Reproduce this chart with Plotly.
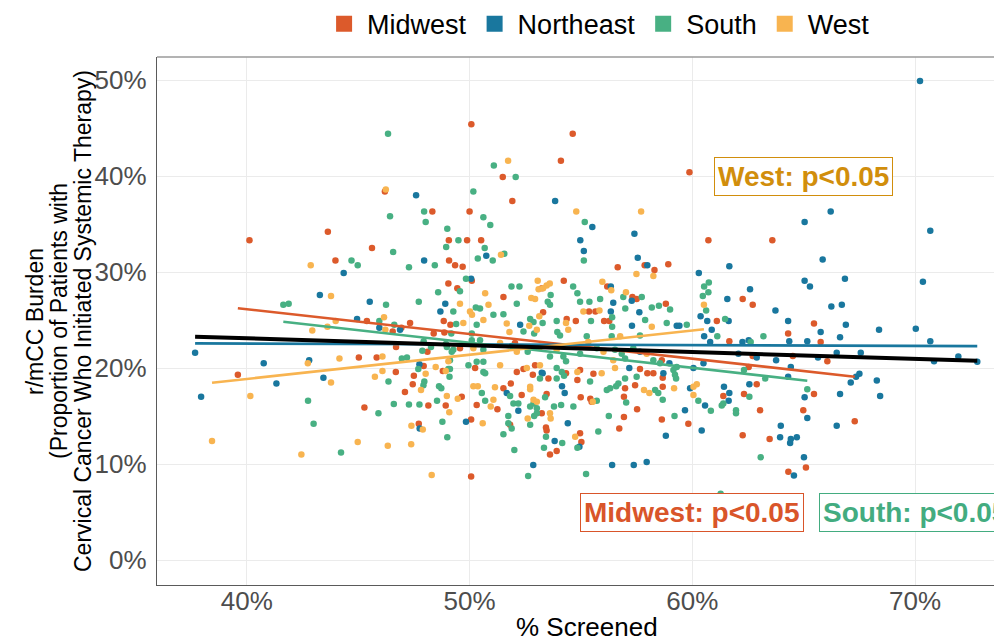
import numpy as np
import plotly.graph_objects as go

# ---------------- data ----------------
regions = ["Midwest", "Northeast", "South", "West"]
point_colors = {"Midwest": "#DC5A2B", "Northeast": "#19779E", "South": "#48B083", "West": "#F8B450"}
label_colors = {"Midwest": "#D9552A", "South": "#43AC80", "West": "#D18E0C"}

midwest_x = [46.2, 48.33, 43.64, 40.12, 49.07, 45.62, 43.98, 49.08, 49.35, 49.05, 49.45,
             45.39, 47.33, 48.84, 49.14, 46.55, 46.94, 48.39, 48.87, 46.7, 48.11, 45.03, 45.83, 47.94, 48.8,
             46.69, 39.6, 47.5, 47.45, 47.1, 48.15, 48.93, 45.28, 47.72,
             50.08, 54.63, 54.1, 51.49, 59.87, 51.92, 50.0, 49.89, 50.52, 49.69, 56.65, 57.86, 58.3, 58.92,
             60.72, 50.1, 53.25, 54.23, 56.18, 51.52,
             63.59,
             62.26, 62.71, 65.46, 61.1, 61.66, 64.3, 65.76, 62.71, 64.51, 66.06, 62.53, 62.89, 65.46, 61.39,
             62.32, 63.04, 64.98, 67.29, 62.26, 63.47, 64.31, 65.1,
             57.31, 57.5, 58.81, 53.3, 55.36, 55.65, 54.36, 54.77, 56.04, 56.27, 49.57, 52.04, 58.63, 57.65,
             52.42, 52.94, 54.96, 50.25,
             52.12, 52.84, 53.54, 54.33, 55.56, 54.84, 57.98, 58.25, 58.67, 59.82, 58.63, 57.52, 56.93, 56.72,
             56.93, 58.67, 56.98, 57.43, 54.99, 55.42, 55.48, 53.46, 52.34, 51.85, 51.52, 50.32, 51.25, 53.24,
             51.82, 50.07, 53.43, 53.46, 54.96, 55.02, 53.91, 53.61, 50.07, 49.65]
midwest_y = [38.4, 36.3, 34.2, 33.3, 33.3, 32.5, 31.2, 31.2, 30.7, 28.8, 28.3,
             24.9, 24.7, 24.9, 24.5, 23.8, 24.2, 23.6, 23.7, 22.2, 21.7, 21.1, 21.1, 20.2, 19.7,
             19.6, 19.3, 19.2, 18.3, 17.5, 16.1, 16.1, 15.9, 14.2,
             45.4, 44.4, 41.6, 39.9, 40.4, 37.4, 36.3, 33.3, 33.3, 30.55, 30.5, 30.7, 30.2, 30.8,
             33.3, 29.1, 28.3, 29.1, 28.5, 27.4,
             33.3,
             27.2, 26.6, 24.65, 24.9, 22.8, 23.6, 22.7, 21.25, 21.25, 20.7, 20.1, 18.3, 17.3, 17.1,
             17.3, 15.6, 15.6, 14.45, 13.0, 12.6, 9.2, 9.65,
             27.4, 27.2, 26.7, 25.8, 25.9, 25.9, 25.1, 24.9, 24.9, 24.9, 22.05, 22.6, 20.8, 19.9,
             19.9, 20.3, 19.8, 20.0,
             19.6, 19.3, 18.9, 19.45, 19.4, 18.75, 19.45, 19.45, 19.0, 14.2, 14.65, 15.7, 14.9, 13.7,
             17.0, 18.05, 17.9, 18.2, 16.95, 16.8, 16.5, 17.3, 17.2, 18.4, 17.9, 16.15, 15.7, 15.3,
             14.1, 14.65, 13.8, 13.5, 13.2, 12.3, 11.35, 11.0, 8.7, 17.0]

northeast_x = [47.6, 47.96, 44.35, 43.28,
               45.52, 48.91, 48.69, 44.95, 45.95, 46.88, 37.68, 40.76, 42.8, 47.75, 43.44, 41.33, 37.95, 47.76,
               53.84, 55.51, 57.4, 54.97, 55.13, 50.75, 57.55, 57.98, 60.29, 50.07, 56.34,
               70.22, 66.21, 65.04, 70.68, 65.85, 61.66, 65.04, 65.28, 66.85, 70.35, 62.59,
               60.37, 61.57, 63.73, 66.24, 66.71, 64.3, 66.89, 61.63, 60.67, 60.87, 60.53, 60.8, 62.25, 62.53,
               64.35, 65.16, 65.76, 66.63, 68.38, 70.03, 70.68, 66.48, 67.56, 62.07, 62.89, 63.76, 65.64, 70.85,
               71.94, 72.79, 64.42, 64.3, 67.35, 67.5, 67.11, 68.28, 68.43, 62.56, 65.04, 66.63, 61.42, 61.66,
               61.63, 60.57, 65.16, 66.48, 63.97, 60.42, 63.94, 64.42, 64.39, 64.69, 65.01, 64.56,
               56.45, 57.28, 56.34, 57.62, 52.27, 57.29, 59.3, 59.42, 57.65, 58.97, 57.17, 53.24, 60.05, 60.5,
               53.28, 58.7, 59.9, 59.67, 58.81, 54.27, 54.15, 52.19, 51.67, 49.84, 54.41, 54.93, 53.82, 52.86,
               56.4, 57.37, 57.95]
northeast_y = [38.0, 31.2, 29.9, 27.6,
               26.9, 26.7, 25.9, 25.1, 24.2, 24.0, 21.6, 20.5, 20.8, 20.4, 19.0, 18.4, 17.0, 13.7,
               37.4, 34.7, 34.0, 33.3, 32.2, 31.7, 31.5, 30.7, 29.9, 29.3, 28.5,
               49.9, 36.3, 35.2, 34.3, 31.3, 30.6, 29.1, 28.5, 29.3, 29.0, 28.2,
               25.4, 27.2, 26.0, 26.4, 26.6, 24.9, 24.5, 24.9, 24.9, 24.0, 23.3, 22.7, 22.7, 22.9,
               22.8, 22.8, 23.75, 23.2, 24.0, 24.1, 22.8, 21.6, 21.6, 21.5, 21.1, 20.8, 21.1, 20.7,
               21.2, 20.65, 20.1, 19.1, 19.1, 19.4, 18.5, 18.7, 17.1, 18.3, 16.95, 17.3, 18.05, 17.4,
               16.6, 16.1, 14.8, 14.0, 14.0, 13.5, 12.8, 12.6, 12.2, 12.8, 10.7, 8.8,
               26.8, 27.0, 25.9, 25.8, 24.5, 24.4, 24.4, 24.4, 21.7, 20.5, 20.0, 19.5, 20.0, 20.5,
               19.45, 19.45, 17.9, 15.6, 12.95, 17.4, 18.1, 15.55, 17.4, 14.4, 14.25, 11.8, 12.4, 9.9,
               9.9, 9.9, 10.2]

south_x = [46.34, 47.96, 46.43, 48.03, 49.0, 49.5, 48.95, 46.57, 44.7, 44.98, 47.28, 48.44, 48.59,
           41.64, 41.88, 46.25, 47.72, 49.27, 45.95, 46.62, 47.94, 47.88, 48.27, 48.98, 49.2, 46.96, 47.19,
           47.7, 49.05, 49.1, 46.36, 47.97, 47.93, 48.63, 48.73, 42.75, 46.6, 47.28, 47.75, 48.54, 45.91,
           48.78, 43.0, 49.0, 44.23,
           51.09, 52.07, 50.17, 50.62, 50.93, 55.17, 50.68, 51.56, 50.37, 51.04, 55.13, 49.84, 49.57, 51.88,
           52.24, 54.65, 54.84, 53.64, 60.53, 60.74, 60.47, 60.72,
           60.62, 61.47, 61.12, 62.62, 63.19, 62.32, 63.27, 65.16, 62.56, 61.39, 61.32, 60.83, 61.96, 61.96,
           63.07, 61.27,
           56.9, 57.73, 50.28, 52.12, 53.51, 53.61, 54.96, 55.86, 55.38, 58.18, 58.5, 50.47, 51.07, 51.52,
           56.99, 59.0, 49.4, 50.32, 52.72, 52.87, 53.28, 53.91, 55.45, 56.4, 56.4, 57.88, 58.85, 59.75,
           49.18, 50.1, 52.42, 52.9, 53.94, 54.06, 55.26, 56.38, 57.65, 48.94, 49.27, 50.1, 50.47, 50.62,
           51.89, 52.61, 53.61, 54.21, 54.33, 54.96, 55.71, 56.53, 56.83, 56.98, 57.35, 58.25, 58.55, 59.3,
           53.91, 54.14, 49.12, 49.12, 49.95, 50.32, 50.62, 50.62, 59.15,
           50.7, 53.16, 53.91, 54.24, 55.41, 56.68, 56.98, 57.5, 59.22, 59.27, 60.27, 59.2, 56.25, 55.78,
           57.03, 58.33, 58.47, 58.67, 56.16, 56.31, 56.58, 55.71, 54.66, 54.11, 53.39, 53.79, 52.72, 52.87,
           53.02, 51.97, 52.19, 51.82, 50.7, 50.55, 51.74, 52.9, 53.02, 52.72, 51.74, 51.89, 51.52, 53.43,
           54.84, 54.16, 53.34, 52.01, 52.63, 55.23]
south_y = [44.4, 36.3, 35.8, 35.2, 34.5, 33.3, 32.6, 32.1, 31.2, 30.7, 30.5, 30.7, 27.9,
           26.6, 26.7, 26.6, 26.9, 25.9, 24.9, 24.5, 22.8, 21.8, 22.2, 22.2, 21.7, 21.0, 21.1,
           19.9, 19.9, 19.1, 18.6, 18.6, 18.2, 18.1, 17.9, 16.6, 16.25, 16.2, 16.2, 16.6, 15.3,
           14.4, 14.2, 12.8, 11.2,
           41.1, 39.9, 38.4, 35.7, 34.9, 35.2, 32.5, 31.9, 31.4, 31.2, 31.2, 29.3, 28.0, 28.5,
           28.5, 28.5, 27.8, 27.6, 28.5, 28.9, 27.5, 27.9,
           26.0, 25.1, 23.3, 22.7, 23.3, 19.8, 18.9, 17.8, 17.0, 16.3, 16.1, 15.55, 15.6, 15.3,
           10.7, 6.9,
           27.4, 27.4, 26.3, 26.7, 26.9, 26.6, 26.9, 27.2, 26.9, 26.3, 26.5, 26.2, 25.55, 25.6,
           26.2, 26.1, 24.6, 24.5, 25.1, 24.8, 24.7, 24.9, 24.9, 25.3, 24.3, 25.0, 24.7, 24.5,
           23.6, 23.6, 23.8, 23.6, 23.75, 23.4, 23.3, 23.3, 23.4, 22.5, 21.9, 22.9, 22.9, 21.9,
           22.3, 21.7, 21.2, 21.2, 20.7, 21.5, 22.05, 21.9, 21.5, 21.0, 22.05, 20.8, 20.5, 20.1,
           20.0, 19.6, 20.8, 19.9, 20.3, 20.65, 20.65, 19.6, 19.8,
           19.45, 18.9, 18.9, 19.2, 18.6, 18.4, 18.9, 19.1, 19.3, 18.9, 16.6, 15.0, 15.0, 13.4,
           16.4, 17.7, 17.4, 16.7, 17.7, 17.9, 18.1, 16.6, 16.0, 16.15, 16.95, 16.0, 16.0, 16.3,
           15.8, 16.3, 16.3, 17.1, 16.6, 17.4, 15.0, 15.0, 15.3, 14.1, 14.25, 13.7, 13.1, 12.85,
           11.7, 12.2, 11.7, 11.45, 8.75, 8.95]

west_x = [46.24, 42.87, 43.78,
          46.16, 43.99, 43.62, 46.22, 42.94, 42.74, 44.16, 46.09, 48.48, 48.93, 46.09, 45.75, 43.78, 48.03,
          47.82, 48.98, 49.47, 40.16, 49.09, 47.39, 47.9, 38.44, 44.98, 46.33, 47.38, 42.45, 48.3,
          51.73, 54.79, 57.7, 51.41, 57.49, 58.25, 50.7, 53.06, 53.1, 53.3, 53.46, 53.6, 55.96, 56.36,
          57.02, 52.77,
          60.52,
          49.57, 50.85, 52.94, 50.02, 50.11, 53.13, 55.11, 55.83, 49.72, 50.62, 52.68, 54.33, 54.43, 58.18,
          51.67, 51.79, 53.02, 56.76, 50.17, 51.37, 52.12, 53.16, 53.91, 55.33, 56.01, 56.45, 57.95, 52.57,
          53.16, 56.53, 49.05, 51.37,
          54.84, 55.93, 60.2, 60.05, 60.05, 57.83, 58.07, 59.18, 55.53, 52.72, 52.72, 52.87, 53.02, 51.07,
          50.17, 50.37, 51.14, 50.95, 52.61, 53.61, 53.64, 50.59, 54.74]
west_y = [38.6, 30.7, 27.5,
          25.3, 24.9, 24.3, 24.0, 23.9, 20.5, 21.0, 21.2, 20.1, 19.7, 19.7, 19.1, 18.5, 19.4,
          17.7, 17.1, 16.8, 17.1, 15.4, 14.0, 13.6, 12.4, 12.3, 11.9, 12.05, 11.0, 8.85,
          41.6, 36.3, 36.3, 31.8, 29.8, 29.6, 27.8, 29.1, 28.2, 28.3, 28.6, 28.8, 29.0, 28.1,
          27.9, 27.3,
          26.6,
          26.7, 26.6, 27.2, 25.9, 25.55, 25.4, 25.9, 26.0, 24.7, 25.0, 24.4, 24.7, 24.0, 24.3,
          24.65, 23.75, 24.0, 23.3, 22.05, 22.6, 21.7, 22.2, 21.9, 22.7, 21.7, 20.8, 21.5, 20.0,
          20.3, 20.0, 20.7, 20.3,
          19.6, 19.45, 18.3, 18.05, 17.2, 17.7, 17.4, 17.9, 16.5, 18.05, 17.8, 16.7, 16.5, 16.7,
          18.1, 18.1, 18.0, 16.0, 14.75, 15.3, 14.75, 14.25, 12.85]

# linear fits (intercept, slope in % units)
fit_intercept = {"Midwest": 36.43, "Northeast": 22.87, "South": 35.71, "West": 8.77, "All": 25.95}
fit_slope = {"Midwest": -0.2576, "Northeast": -0.008, "South": -0.2614, "West": 0.2523, "All": -0.0713}

x_ticks = [40, 50, 60, 70]
x_tick_labels = ["40%", "50%", "60%", "70%"]
y_ticks = [0, 10, 20, 30, 40, 50]
y_tick_labels = ["0%", "10%", "20%", "30%", "40%", "50%"]

labels = [("West", "West: p<0.05", 65, 40), ("Midwest", "Midwest: p<0.05", 60, 5),
          ("South", "South: p<0.05", 70, 5)]

data = {"Midwest": (midwest_x, midwest_y), "Northeast": (northeast_x, northeast_y),
        "South": (south_x, south_y), "West": (west_x, west_y)}

# ---------------- figure ----------------
FONT = "Liberation Sans, Arial, sans-serif"
fig = go.Figure()

for r in regions:
    xs, ys = data[r]
    fig.add_trace(go.Scatter(x=xs, y=ys, mode="markers", showlegend=False,
                             marker=dict(color=point_colors[r], size=6.5, line=dict(width=0)),
                             cliponaxis=False))

for r in regions:
    xs, _ = data[r]
    xl = np.array([min(xs), max(xs)])
    fig.add_trace(go.Scatter(x=xl, y=fit_intercept[r] + fit_slope[r] * xl, mode="lines",
                             showlegend=False, line=dict(color=point_colors[r], width=2.6)))

all_x = midwest_x + northeast_x + south_x + west_x
xl = np.array([min(all_x), max(all_x)])
fig.add_trace(go.Scatter(x=xl, y=fit_intercept["All"] + fit_slope["All"] * xl, mode="lines",
                         showlegend=False, line=dict(color="black", width=4)))

# legend entries (square keys)
for r in regions:
    fig.add_trace(go.Scatter(x=[None], y=[None], mode="markers", name=r,
                             marker=dict(symbol="square", size=18, color=point_colors[r])))

for key, txt, lx, ly in labels:
    fig.add_annotation(x=lx, y=ly, text="<b>%s</b>" % txt, showarrow=False,
                       font=dict(family=FONT, size=28, color=label_colors[key]),
                       bgcolor="white", bordercolor=label_colors[key], borderwidth=1, borderpad=3)

# y-axis title (three lines)
ytitle_lines = ["r/mCC Burden", "(Proportion of Patients with",
                "Cervical Cancer Who Initiated Systemic Therapy)"]
for i, line in enumerate(ytitle_lines):
    fig.add_annotation(xref="paper", yref="paper", x=(35 + 24 * i - 157) / 845, y=0.5,
                       text=line, textangle=-90, showarrow=False, xanchor="center", yanchor="middle",
                       font=dict(family=FONT, size=23, color="black"))

fig.add_annotation(xref="paper", yref="paper", x=(587 - 157) / 845, y=-(627 - 585) / 528,
                   text="% Screened", showarrow=False, xanchor="center", yanchor="middle",
                   font=dict(family=FONT, size=26, color="black"))

fig.add_shape(type="line", xref="paper", yref="paper", x0=0, x1=1, y0=1, y1=1,
              line=dict(color="#9a9a9a", width=1.3))

# page body adds an 8px offset, so the figure is 8px smaller on each origin side
fig.update_layout(
    width=994, height=633,
    margin=dict(l=149, r=0, t=49, b=56, autoexpand=False),
    paper_bgcolor="white", plot_bgcolor="white",
    font=dict(family=FONT, color="#4d4d4d"),
    legend=dict(orientation="h", x=0.522, xanchor="center", y=1.062, yanchor="middle",
                font=dict(family=FONT, size=27, color="black"), itemwidth=36,
                tracegroupgap=0, bgcolor="rgba(0,0,0,0)"),
    xaxis=dict(range=[35.97, 73.9], tickvals=x_ticks, ticktext=x_tick_labels,
               showgrid=True, gridcolor="#ebebeb", gridwidth=1, zeroline=False,
               showline=True, linecolor="#5a5a5a", linewidth=1.3, ticks="",
               ticklabelstandoff=-7,
               tickfont=dict(family=FONT, size=26, color="#4d4d4d")),
    yaxis=dict(range=[-2.6, 52.4], tickvals=y_ticks, ticktext=y_tick_labels,
               showgrid=True, gridcolor="#ebebeb", gridwidth=1, zeroline=False,
               showline=True, linecolor="#5a5a5a", linewidth=1.3, ticks="",
               ticklabelstandoff=4,
               tickfont=dict(family=FONT, size=26, color="#4d4d4d")),
)

fig.write_html("out.html")
